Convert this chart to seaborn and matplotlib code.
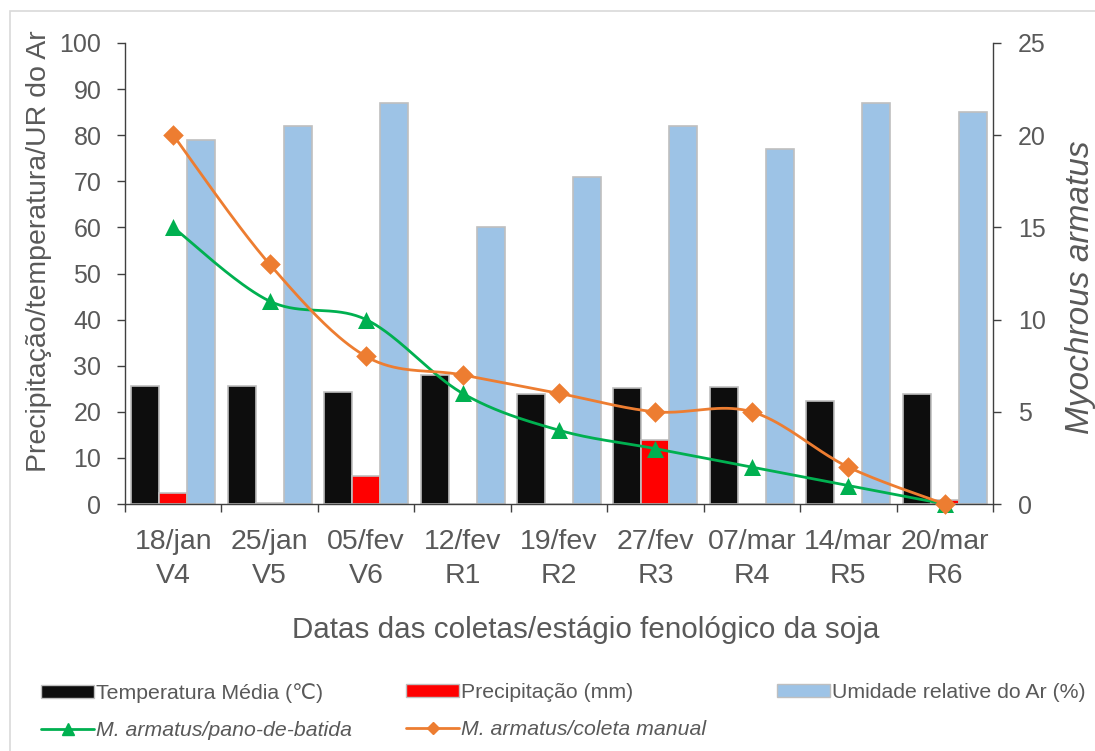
import numpy as np
import pandas as pd
import matplotlib
matplotlib.use("Agg")
import matplotlib.pyplot as plt
from matplotlib.patches import Patch, Rectangle
from matplotlib.lines import Line2D
import seaborn as sns

# Sampling dates / soybean phenological stage
datas = ["18/jan", "25/jan", "05/fev", "12/fev", "19/fev", "27/fev", "07/mar", "14/mar", "20/mar"]
estagios = ["V4", "V5", "V6", "R1", "R2", "R3", "R4", "R5", "R6"]

# Weather on each sampling date
temperatura = [25.6, 25.6, 24.4, 28.0, 23.9, 25.1, 25.4, 22.3, 23.9]
precipitacao = [2.3, 0.3, 6.1, 0.0, 0.0, 13.9, 0.0, 0.0, 0.9]
umidade = [79, 82, 87, 60, 71, 82, 77, 87, 85]

# Myochrous armatus counts by sampling method
pano_de_batida = [15, 11, 10, 6, 4, 3, 2, 1, 0]
coleta_manual = [20, 13, 8, 7, 6, 5, 5, 2, 0]

serie_nomes = ["Temperatura Média (℃)", "Precipitação (mm)", "Umidade relative do Ar (%)"]
cores = {serie_nomes[0]: "#0d0d0d", serie_nomes[1]: "#ff0000", serie_nomes[2]: "#9dc3e6"}
verde = "#00b050"
laranja = "#ed7d31"
cinza_txt = "#595959"

sns.set_theme(style="white")
plt.rcParams["font.family"] = ["Liberation Sans", "DejaVu Sans"]
plt.rcParams["text.color"] = cinza_txt
plt.rcParams["axes.labelcolor"] = cinza_txt
plt.rcParams["xtick.color"] = cinza_txt
plt.rcParams["ytick.color"] = cinza_txt

rotulos = [f"{d}\n{e}" for d, e in zip(datas, estagios)]
df = pd.DataFrame({
    "data": rotulos * 3,
    "valor": temperatura + precipitacao + umidade,
    "serie": [serie_nomes[0]] * 9 + [serie_nomes[1]] * 9 + [serie_nomes[2]] * 9,
})

fig = plt.figure(figsize=(10.95, 7.51), dpi=100)
ax = fig.add_axes([125 / 1095, 1 - 504 / 751, (993 - 125) / 1095, (504 - 43) / 751])

sns.barplot(data=df, x="data", y="valor", hue="serie", hue_order=serie_nomes,
            order=rotulos, palette=cores, width=0.87, edgecolor="#bfbfbf",
            linewidth=1.2, ax=ax, legend=False, errorbar=None, saturation=1)

ax.set_ylim(0, 100)
ax.set_xlim(-0.5, 8.5)
ax.set_yticks(np.arange(0, 101, 10))
ax.tick_params(axis="y", labelsize=18, length=6, width=1, color="#404040", direction="out", left=True, pad=11)
# boundary ticks between categories, labels centred
ax.set_xticks(np.arange(-0.5, 9, 1))
ax.set_xticklabels([""] * 10)
ax.set_xticks(np.arange(9), minor=True)
ax.set_xticklabels(rotulos, minor=True, fontsize=20.5, linespacing=1.4)
ax.tick_params(axis="x", which="major", length=6, width=1, color="#404040", bottom=True, direction="out")
ax.tick_params(axis="x", which="minor", length=0, pad=18)
ax.set_xlabel("Datas das coletas/estágio fenológico da soja", fontsize=21.3)
ax.xaxis.set_label_coords(0.531, -0.243)
ax.set_ylabel("Precipitação/temperatura/UR do Ar", fontsize=20.5)
ax.yaxis.set_label_coords(-0.084, 0.549)

for s in ["left", "bottom"]:
    ax.spines[s].set_color("#404040")
    ax.spines[s].set_linewidth(1)
ax.spines["top"].set_visible(False)
ax.spines["right"].set_visible(False)


def suaviza(xs, ys, n=40):
    p = np.column_stack([xs, ys]).astype(float)
    out = []
    for i in range(len(p) - 1):
        p0 = p[max(i - 1, 0)]
        p1 = p[i]
        p2 = p[i + 1]
        p3 = p[min(i + 2, len(p) - 1)]
        c1 = p1 + (p2 - p0) / 6
        c2 = p2 - (p3 - p1) / 6
        t = np.linspace(0, 1, n)[:, None]
        seg = ((1 - t) ** 3) * p1 + 3 * ((1 - t) ** 2) * t * c1 + 3 * (1 - t) * t ** 2 * c2 + t ** 3 * p2
        out.append(seg if i == 0 else seg[1:])
    return np.vstack(out)


ax2 = ax.twinx()
ax2.set_ylim(0, 25)
ax2.set_yticks(np.arange(0, 26, 5))
x = np.arange(9)
for vals, cor, mk, ms, z in [(pano_de_batida, verde, "^", 150, 3), (coleta_manual, laranja, "D", 110, 4)]:
    curva = suaviza(x, vals)
    sns.lineplot(x=curva[:, 0], y=curva[:, 1], sort=False, color=cor, linewidth=2, ax=ax2, zorder=z, estimator=None)
    sns.scatterplot(x=x, y=vals, marker=mk, s=ms, color=cor, edgecolor=cor, linewidth=0, ax=ax2, zorder=z + 0.5, clip_on=False)

ax2.set_ylabel("Myochrous armatus", fontsize=24, style="italic")
ax2.yaxis.set_label_coords(1.083, 0.471)
ax2.tick_params(axis="y", labelsize=18, length=6, width=1, color="#404040", direction="out", right=True, pad=12)
ax2.spines["right"].set_color("#404040")
ax2.spines["right"].set_linewidth(1)
for s in ["top", "left", "bottom"]:
    ax2.spines[s].set_visible(False)
ax2.set_xlim(-0.5, 8.5)

# legend laid out as three columns at fixed positions
h_temp = Patch(facecolor=cores[serie_nomes[0]], edgecolor="#bfbfbf", linewidth=1)
h_prec = Patch(facecolor=cores[serie_nomes[1]], edgecolor="#bfbfbf", linewidth=1)
h_umid = Patch(facecolor=cores[serie_nomes[2]], edgecolor="#bfbfbf", linewidth=1)
h_pano = Line2D([0], [0], color=verde, linewidth=2, marker="^", markersize=8)
h_manu = Line2D([0], [0], color=laranja, linewidth=2, marker="D", markersize=6)
colunas = [
    ([h_temp, h_pano], [serie_nomes[0], "M. armatus/pano-de-batida"], 22),
    ([h_prec, h_manu], [serie_nomes[1], "M. armatus/coleta manual"], 387),
    ([h_umid], [serie_nomes[2]], 758),
]
for hs, ls, xpix in colunas:
    leg = fig.legend(hs, ls, ncol=1, loc="upper left", bbox_to_anchor=(xpix / 1095, 1 - 664 / 751),
                     frameon=False, fontsize=15.3, handlelength=2.5, handleheight=0.6, handletextpad=0.1,
                     labelspacing=0.85)
    for t in leg.get_texts():
        if t.get_text().startswith("M."):
            t.set_style("italic")

fig.add_artist(Rectangle((10 / 1095, -0.01), 1.0, 1 - 11 / 751 + 0.01, transform=fig.transFigure,
                         fill=False, edgecolor="#d9d9d9", linewidth=1.2))

fig.savefig("out.png", dpi=100)
